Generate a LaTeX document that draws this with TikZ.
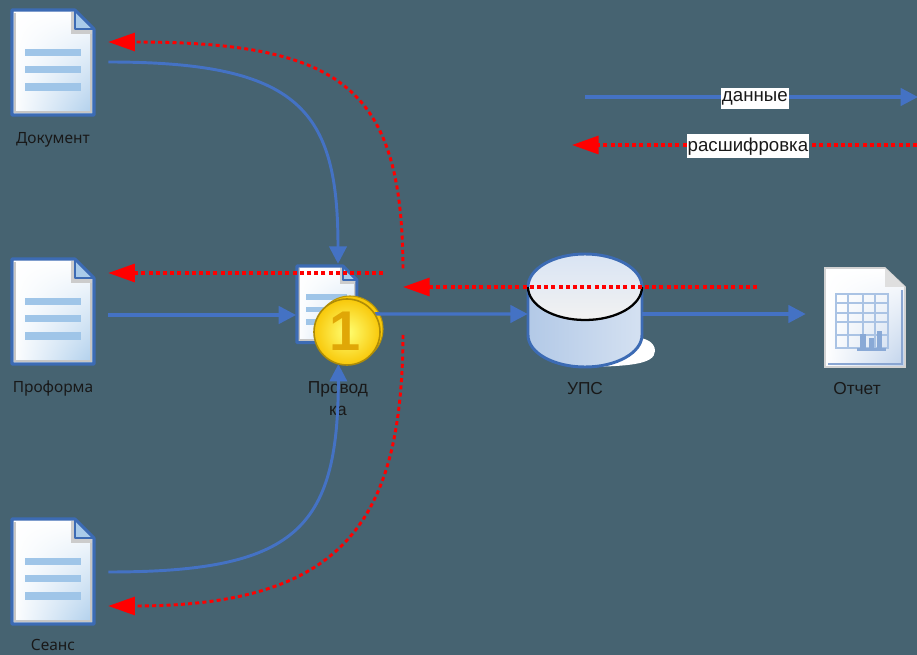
\documentclass[tikz,border=0pt]{standalone}
\usepackage{fontspec}
\setmainfont{Liberation Sans}
\newfontfamily\labelfont{Noto Sans}
\usetikzlibrary{arrows.meta,shadings}
\definecolor{fon}{RGB}{70,99,113}
\definecolor{sinij}{RGB}{68,114,196}
\definecolor{kontur}{RGB}{60,107,180}
\definecolor{polosa}{RGB}{159,197,232}
\definecolor{setka}{RGB}{170,195,228}
\definecolor{zoloto}{RGB}{248,200,10}
\tikzset{
    dataline/.style={draw=sinij,line width=2.2pt,-{Triangle[length=13pt,width=13pt]}},
    decodeline/.style={draw=red,line width=2.2pt,dash pattern=on 3pt off 2.4pt,-{Triangle[length=20pt,width=13.5pt]}},
    straight/.style={line width=2.45pt},
    anchorbox/.style={minimum width=#1,minimum height=78pt,inner sep=0pt},
    iconlabel/.style={inner sep=0pt,font=\labelfont\fontsize{11.6}{13}\selectfont,text=black!90},
    biglabel/.style={font=\fontsize{13}{15}\selectfont,text=black!90},
    legendlabel/.style={fill=white,inner ysep=2.5pt,inner xsep=0.8pt,yshift=-1pt,font=\fontsize{14}{16}\selectfont,text=black!90},
    pics/docicon/.style={code={
        \shade[upper left=white,upper right=white,lower left=white,lower right=polosa!85!white] (0,0) -- (63,0) -- (82,19) -- (82,105) -- (0,105) -- cycle;
        \draw[gray!45,line width=1.6pt] (3,3) -- (3,102) -- (79,102) -- (79,22);
        \fill[gray!40] (59,2) rectangle (64,24);
        \fill[gray!40] (59,19) rectangle (80,24);
        \fill[polosa!90!white] (63,0) -- (82,19) -- (63,19) -- cycle;
        \draw[kontur,line width=2.3pt,line join=round] (0,0) -- (63,0) -- (82,19) -- (82,105) -- (0,105) -- cycle;
        \draw[kontur,line width=1.4pt,line join=round] (63,0) -- (63,19) -- (82,19);
        \fill[polosa] (13,39) rectangle (69,46);
        \fill[polosa] (13,56) rectangle (69,63);
        \fill[polosa] (13,73) rectangle (69,81);
    }}
}
\begin{document}
\begin{tikzpicture}[x=0.75pt,y=-0.75pt]
    \useasboundingbox (0,0) rectangle (917,655);
    \fill[fon] (0,0) rectangle (917,655);

    \node[anchorbox=82.5pt] (dokument) at (53,62) {};
    \node[anchorbox=82.5pt] (proforma) at (53,311) {};
    \node[anchorbox=82.5pt] (seans) at (53,572) {};
    \node[anchorbox=46pt,minimum height=60pt] (provodka) at (327,304) {};
    \node[anchorbox=85.5pt,minimum height=90pt] (baza) at (585,314) {};
    \node[anchorbox=88.5pt] (otchet) at (865,314) {};

    \pic at (12,10) {docicon};
    \pic at (12,259) {docicon};
    \pic at (12,519) {docicon};
    \pic[scale=0.73] at (297,266) {docicon};

    \node[iconlabel] at (53,140) {Документ};
    \node[iconlabel] at (53,388) {Проформа};
    \node[iconlabel] at (53,645) {Сеанс};
    \node[biglabel] at (338,389) {Провод};
    \node[biglabel] at (338,411) {ка};
    \node[biglabel] at (585,389) {УПС};
    \node[biglabel] at (857,389) {Отчет};

    % cylinder
    \fill[white] (590,367) .. controls (625,366) and (655,365) .. (655,351) .. controls (655,342) and (645,338) .. (638,338) -- cycle;
    \shade[left color=setka!90!white,right color=setka!50!white,draw=kontur,line width=2.2pt]
        (528,287) -- (528,335) arc[start angle=180,end angle=360,x radius=57,y radius=-32] -- (642,287) -- cycle;
    \shade[top color=setka!45!white,bottom color=gray!10,draw=none]
        (585,287) ellipse[x radius=57,y radius=33];
    \draw[kontur,line width=2.2pt] (528,287) arc[start angle=180,end angle=0,x radius=57,y radius=-33];
    \draw[black,line width=1.7pt] (528,287) arc[start angle=180,end angle=360,x radius=57,y radius=-33];

    % report page
    \shade[upper left=white,upper right=white,lower left=white,lower right=setka!75!white,draw=gray!35,line width=1.2pt]
        (825,268) -- (885,268) -- (905,287) -- (905,367) -- (825,367) -- cycle;
    \draw[kontur!60!white,line width=0.9pt] (828,364) -- (902,364) -- (902,290);
    \fill[gray!25] (885,268) -- (905,287) -- (885,287) -- cycle;
    \draw[setka,line width=1.3pt] (836,294) rectangle (888,348);
    \foreach \yy in {303,313,322,335} \draw[setka,line width=1.3pt] (836,\yy) -- (888,\yy);
    \foreach \xx in {848,863,875} \draw[setka,line width=1.3pt] (\xx,294) -- (\xx,348);
    \fill[setka!70!kontur] (860,334) rectangle (866,349);
    \fill[setka!70!kontur] (869,338) rectangle (874,349);
    \fill[setka!70!kontur] (877,331) rectangle (882,349);
    \fill[setka!70!kontur] (857,348) rectangle (886,351);

    \coordinate (rasvilka) at (403,287);
    \coordinate (rastok) at (757,287);
    \coordinate (vetka) at (383,273);
    \coordinate (dannyeA) at (585,97);
    \coordinate (dannyeB) at (918,97);
    \coordinate (rasshifrA) at (917,145);
    \coordinate (rasshifrB) at (572,145);

    \node[circle,minimum size=49.5pt,inner sep=0pt,draw=zoloto!75!black,thick,fill=zoloto] (monetaB) at (350,329) {};
    \node[circle,minimum size=49.5pt,inner sep=0pt] (moneta) at (347,332) {};

    \draw[dataline] (dokument.east) .. controls (300,62) and (338,110) .. ([xshift=8.25pt]provodka.north);
    \draw[dataline,straight] (proforma.east |- 0,315) -- (provodka.west |- 0,315);
    \draw[dataline] (seans.east) .. controls (295,572) and (338,530) .. (moneta.255);
    \draw[dataline,straight] (moneta.33) -- (baza.west);
    \draw[dataline,straight] (baza.east) -- (otchet.west);

    \draw[decodeline] ([yshift=14pt]rasvilka) .. controls (402,90) and (345,42) .. ([yshift=15pt]dokument.east);
    \draw[decodeline,straight] (vetka) -- (proforma.east |- vetka);
    \draw[decodeline,straight] (rastok) -- (rasvilka);
    \draw[decodeline] ([yshift=-36pt]rasvilka) .. controls (402,520) and (345,606) .. ([yshift=-25.5pt]seans.east);

    \draw[dataline,straight] (dannyeA) -- node[legendlabel,pos=0.51] {данные} (dannyeB);
    \draw[decodeline,straight] (rasshifrA) -- node[legendlabel,pos=0.49] {расшифровка} (rasshifrB);

    \shade[inner color=yellow!55!white,outer color=zoloto,draw=zoloto!70!black,line width=1.2pt] (347,332) circle[radius=33];
    \node[font=\bfseries\fontsize{42}{42}\selectfont,text=zoloto!80!orange!90!black] at (345,331) {1};
\end{tikzpicture}
\end{document}
